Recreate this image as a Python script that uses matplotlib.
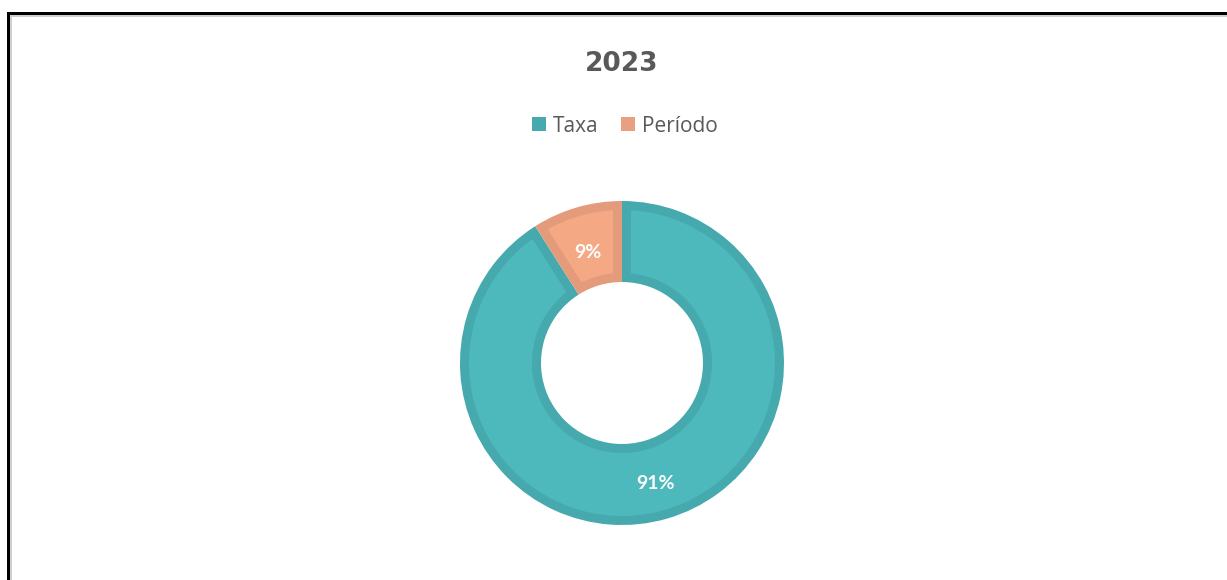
import matplotlib
matplotlib.use("Agg")
import numpy as np
import matplotlib.pyplot as plt
from matplotlib.patches import Rectangle, Polygon

title = "2023"
categories = ["Taxa", "Período"]
values = [91, 9]
fill_colors = ["#4DB9BC", "#F4A984"]
edge_colors = ["#45A9AD", "#E39B7B"]
legend_colors = ["#45A9AD", "#E8A081"]

plt.rcParams['font.family'] = ['Lato', 'DejaVu Sans']

W, H = 1227, 580
fig = plt.figure(figsize=(W / 100, H / 100), dpi=100)


def px_rect(x0, y0, x1, y1, color):
    """Rectangle given in pixel coords measured from top-left."""
    fig.add_artist(Rectangle((x0 / W, 1 - y1 / H), (x1 - x0) / W, (y1 - y0) / H,
                             transform=fig.transFigure, facecolor=color,
                             edgecolor="none", zorder=5))


# frame border
px_rect(7, 12, 10, H, "black")
px_rect(7, 12, W, 15, "black")
px_rect(10, 15, 12, H, "#CFCFCF")
px_rect(10, 15, W, 17, "#CFCFCF")

# pie axes (1 data unit = 1 pixel)
cx, cy = 622, 580 - 363
half = 175
ax = fig.add_axes([(cx - half) / W, (cy - half) / H, 2 * half / W, 2 * half / H])
R_out, R_in = 162, 81
stroke = 9.0
wedges, texts, autotexts = ax.pie(
    values, colors=edge_colors, startangle=90, counterclock=False,
    radius=R_out, wedgeprops=dict(width=R_out - R_in, linewidth=0),
    autopct=lambda p: f"{p:.0f}%", pctdistance=(R_out + R_in) / 2 / R_out,
    textprops=dict(color="white", fontsize=14, fontweight="bold", zorder=10))

# inner fill of each wedge, inset by the stroke width (stroke drawn inside)
ro, ri = R_out - stroke, R_in + stroke
ao = np.degrees(np.arcsin(stroke / ro))
ai = np.degrees(np.arcsin(stroke / ri))
for w, fc in zip(wedges, fill_colors):
    t1, t2 = w.theta1, w.theta2
    a_out = np.radians(np.linspace(t1 + ao, t2 - ao, 200))
    a_in = np.radians(np.linspace(t2 - ai, t1 + ai, 200))
    pts = np.concatenate([
        np.column_stack([ro * np.cos(a_out), ro * np.sin(a_out)]),
        np.column_stack([ri * np.cos(a_in), ri * np.sin(a_in)]),
    ])
    ax.add_patch(Polygon(pts, closed=True, facecolor=fc, edgecolor="none", zorder=3))

for t in autotexts:
    x, y = t.get_position()
    t.set_position((x, y - 4))
autotexts[1].set_position((autotexts[1].get_position()[0], autotexts[1].get_position()[1] - 2))
ax.set_xlim(-half, half)
ax.set_ylim(-half, half)
ax.set_aspect("equal")
ax.axis("off")

# title
fig.text(cx / W, 1 - 64 / H, title, ha="center", va="center", fontsize=19,
         fontweight="bold", color="#595959", family="DejaVu Sans")

# legend
handles = [Rectangle((0, 0), 1, 1, facecolor=c, edgecolor="none") for c in legend_colors]
fig.legend(handles, categories, loc="center", bbox_to_anchor=((cx + 3) / W, 1 - 126 / H),
           ncol=2, frameon=False, prop=dict(family="Open Sans", size=15),
           labelcolor="#595959",
           handlelength=0.65, handleheight=0.65, handletextpad=0.35, columnspacing=1.1)

fig.savefig("out.png", dpi=100, facecolor="white")
